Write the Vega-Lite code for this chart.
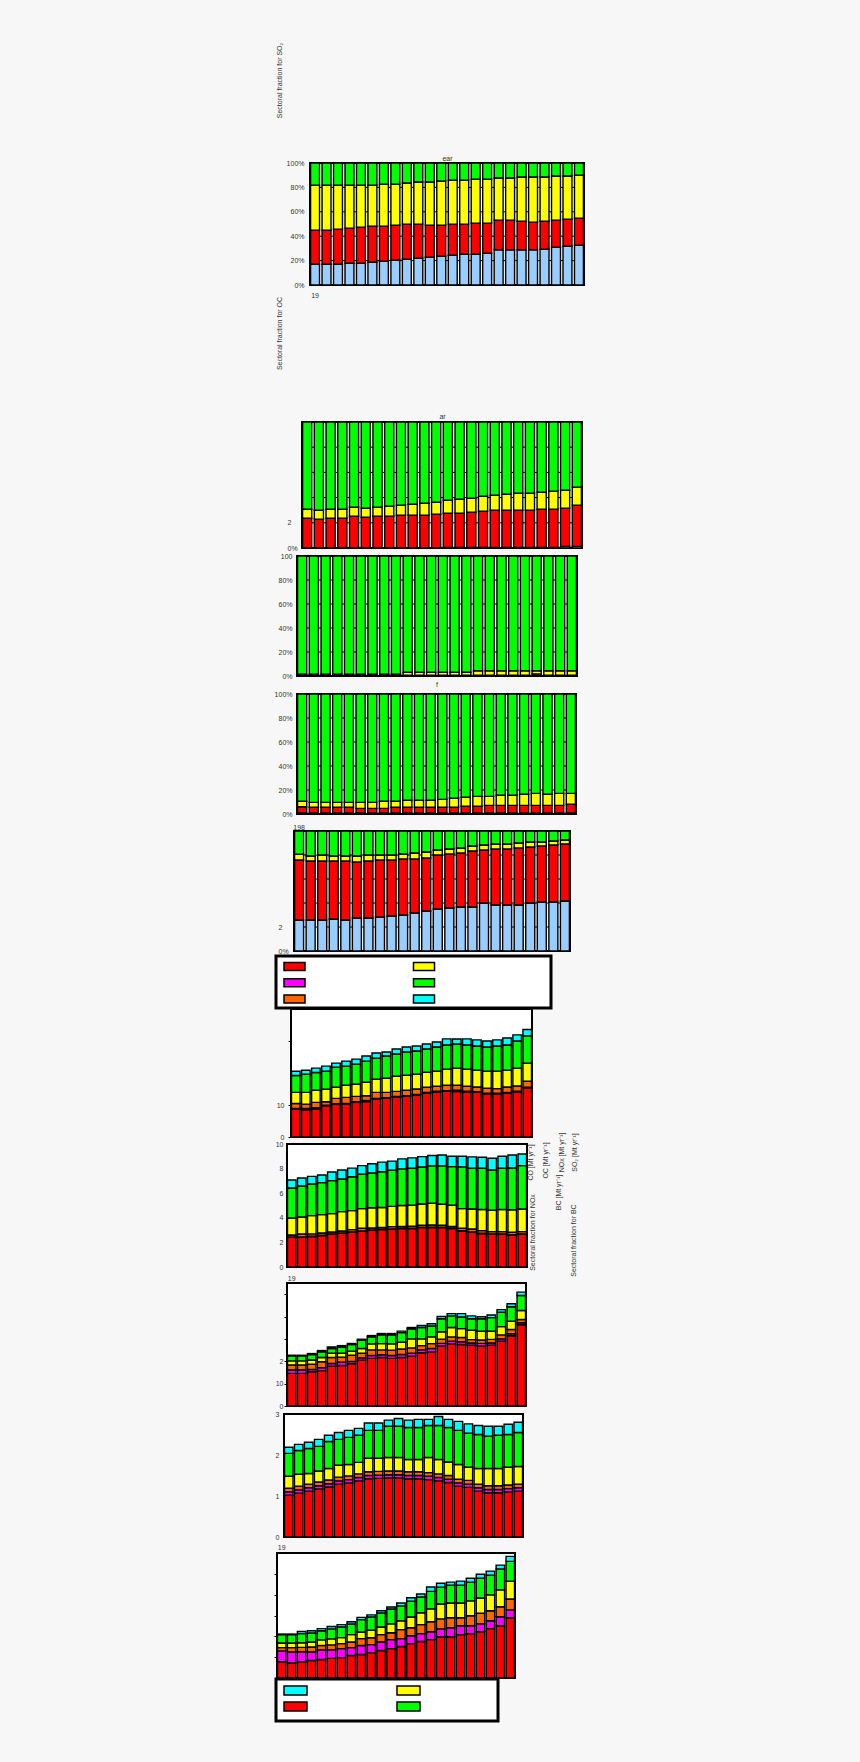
{
"$schema": "https://vega.github.io/schema/vega-lite/v6.json",
"background": "#f7f7f7",
"padding": 0,
"autosize": "none",
"width": 860,
"height": 1762,
"datasets": {
"frame": [{"x0":0,"x1":1,"y0":0,"y1":1}],
"grid": [{"v":20},{"v":40},{"v":60},{"v":80}],
"p1": [
{"year":1980,"a_power":17.0,"b_industry":27.9,"e_transport":37.0,"f_residential":18.1},
{"year":1981,"a_power":17.0,"b_industry":27.9,"e_transport":37.0,"f_residential":18.1},
{"year":1982,"a_power":17.0,"b_industry":28.8,"e_transport":36.1,"f_residential":18.1},
{"year":1983,"a_power":17.8,"b_industry":28.8,"e_transport":35.3,"f_residential":18.1},
{"year":1984,"a_power":17.8,"b_industry":29.6,"e_transport":34.5,"f_residential":18.1},
{"year":1985,"a_power":18.6,"b_industry":29.6,"e_transport":33.7,"f_residential":18.1},
{"year":1986,"a_power":19.5,"b_industry":28.7,"e_transport":34.5,"f_residential":17.3},
{"year":1987,"a_power":20.3,"b_industry":28.7,"e_transport":33.7,"f_residential":17.3},
{"year":1988,"a_power":21.1,"b_industry":28.8,"e_transport":33.7,"f_residential":16.4},
{"year":1989,"a_power":21.9,"b_industry":28.0,"e_transport":34.5,"f_residential":15.6},
{"year":1990,"a_power":22.7,"b_industry":26.3,"e_transport":35.4,"f_residential":15.6},
{"year":1991,"a_power":23.6,"b_industry":25.4,"e_transport":36.2,"f_residential":14.8},
{"year":1992,"a_power":24.4,"b_industry":25.5,"e_transport":36.1,"f_residential":14.0},
{"year":1993,"a_power":25.2,"b_industry":24.7,"e_transport":36.1,"f_residential":14.0},
{"year":1994,"a_power":25.2,"b_industry":25.5,"e_transport":36.1,"f_residential":13.2},
{"year":1995,"a_power":26.0,"b_industry":24.7,"e_transport":36.1,"f_residential":13.2},
{"year":1996,"a_power":28.8,"b_industry":24.4,"e_transport":34.5,"f_residential":12.3},
{"year":1997,"a_power":28.8,"b_industry":24.4,"e_transport":34.5,"f_residential":12.3},
{"year":1998,"a_power":28.8,"b_industry":23.5,"e_transport":36.2,"f_residential":11.5},
{"year":1999,"a_power":28.8,"b_industry":22.7,"e_transport":37.0,"f_residential":11.5},
{"year":2000,"a_power":29.3,"b_industry":23.0,"e_transport":36.2,"f_residential":11.5},
{"year":2001,"a_power":31.0,"b_industry":22.2,"e_transport":36.1,"f_residential":10.7},
{"year":2002,"a_power":31.8,"b_industry":22.2,"e_transport":35.3,"f_residential":10.7},
{"year":2003,"a_power":32.6,"b_industry":22.2,"e_transport":35.3,"f_residential":9.9}
],
"p2": [
{"year":1980,"a_power":0,"b_industry":23.6,"e_transport":7.2,"f_residential":69.2},
{"year":1981,"a_power":0,"b_industry":22.8,"e_transport":7.2,"f_residential":70.0},
{"year":1982,"a_power":0,"b_industry":23.6,"e_transport":7.2,"f_residential":69.2},
{"year":1983,"a_power":0,"b_industry":23.6,"e_transport":7.2,"f_residential":69.2},
{"year":1984,"a_power":0,"b_industry":25.2,"e_transport":7.2,"f_residential":67.6},
{"year":1985,"a_power":0,"b_industry":24.4,"e_transport":7.2,"f_residential":68.4},
{"year":1986,"a_power":0,"b_industry":25.2,"e_transport":7.2,"f_residential":67.6},
{"year":1987,"a_power":0,"b_industry":25.2,"e_transport":8.0,"f_residential":66.8},
{"year":1988,"a_power":0,"b_industry":26.0,"e_transport":8.0,"f_residential":66.0},
{"year":1989,"a_power":0,"b_industry":26.0,"e_transport":8.7,"f_residential":65.3},
{"year":1990,"a_power":0,"b_industry":26.0,"e_transport":9.5,"f_residential":64.5},
{"year":1991,"a_power":0,"b_industry":26.8,"e_transport":9.5,"f_residential":63.7},
{"year":1992,"a_power":0.5,"b_industry":27.1,"e_transport":10.3,"f_residential":62.1},
{"year":1993,"a_power":0.5,"b_industry":27.1,"e_transport":11.1,"f_residential":61.3},
{"year":1994,"a_power":0.5,"b_industry":27.9,"e_transport":11.1,"f_residential":60.5},
{"year":1995,"a_power":0.5,"b_industry":28.7,"e_transport":11.9,"f_residential":58.9},
{"year":1996,"a_power":0.5,"b_industry":29.5,"e_transport":11.9,"f_residential":58.1},
{"year":1997,"a_power":0.5,"b_industry":29.5,"e_transport":12.7,"f_residential":57.3},
{"year":1998,"a_power":0.5,"b_industry":29.5,"e_transport":13.5,"f_residential":56.5},
{"year":1999,"a_power":0.5,"b_industry":29.5,"e_transport":13.5,"f_residential":56.5},
{"year":2000,"a_power":0.5,"b_industry":30.3,"e_transport":13.5,"f_residential":55.7},
{"year":2001,"a_power":0.5,"b_industry":30.3,"e_transport":14.3,"f_residential":54.9},
{"year":2002,"a_power":1.3,"b_industry":30.3,"e_transport":14.3,"f_residential":54.1},
{"year":2003,"a_power":1.3,"b_industry":32.7,"e_transport":14.3,"f_residential":51.7}
],
"p3": [
{"year":1980,"a_power":0.3,"b_industry":0.5,"e_transport":0.7,"f_residential":98.5},
{"year":1981,"a_power":0.3,"b_industry":0.5,"e_transport":0.7,"f_residential":98.5},
{"year":1982,"a_power":0.3,"b_industry":0.5,"e_transport":0.7,"f_residential":98.5},
{"year":1983,"a_power":0.3,"b_industry":0.5,"e_transport":0.7,"f_residential":98.5},
{"year":1984,"a_power":0.3,"b_industry":0.5,"e_transport":0.7,"f_residential":98.5},
{"year":1985,"a_power":0.3,"b_industry":0.5,"e_transport":0.7,"f_residential":98.5},
{"year":1986,"a_power":0.3,"b_industry":0.5,"e_transport":0.7,"f_residential":98.5},
{"year":1987,"a_power":0.3,"b_industry":0.5,"e_transport":0.7,"f_residential":98.5},
{"year":1988,"a_power":0.3,"b_industry":0.5,"e_transport":0.7,"f_residential":98.5},
{"year":1989,"a_power":0.3,"b_industry":0.3,"e_transport":2.5,"f_residential":96.9},
{"year":1990,"a_power":0.3,"b_industry":0.3,"e_transport":2.5,"f_residential":96.9},
{"year":1991,"a_power":0.3,"b_industry":0.3,"e_transport":2.5,"f_residential":96.9},
{"year":1992,"a_power":0.3,"b_industry":0.3,"e_transport":2.5,"f_residential":96.9},
{"year":1993,"a_power":0.3,"b_industry":0.3,"e_transport":2.5,"f_residential":96.9},
{"year":1994,"a_power":0.3,"b_industry":0.3,"e_transport":2.5,"f_residential":96.9},
{"year":1995,"a_power":0.3,"b_industry":0.3,"e_transport":3.8,"f_residential":95.6},
{"year":1996,"a_power":0.3,"b_industry":0.3,"e_transport":3.8,"f_residential":95.6},
{"year":1997,"a_power":0.3,"b_industry":0.3,"e_transport":3.8,"f_residential":95.6},
{"year":1998,"a_power":0.3,"b_industry":0.3,"e_transport":3.8,"f_residential":95.6},
{"year":1999,"a_power":0.3,"b_industry":0.3,"e_transport":3.8,"f_residential":95.6},
{"year":2000,"a_power":0.3,"b_industry":1.5,"e_transport":2.6,"f_residential":95.6},
{"year":2001,"a_power":0.3,"b_industry":0.3,"e_transport":3.8,"f_residential":95.6},
{"year":2002,"a_power":0.3,"b_industry":0.3,"e_transport":3.8,"f_residential":95.6},
{"year":2003,"a_power":0.3,"b_industry":0.3,"e_transport":3.8,"f_residential":95.6}
],
"p4": [
{"year":1980,"a_power":0.8,"b_industry":5.3,"e_transport":4.5,"f_residential":89.4},
{"year":1981,"a_power":0.8,"b_industry":4.8,"e_transport":4.1,"f_residential":90.3},
{"year":1982,"a_power":0.8,"b_industry":4.8,"e_transport":4.1,"f_residential":90.3},
{"year":1983,"a_power":0.8,"b_industry":4.8,"e_transport":4.1,"f_residential":90.3},
{"year":1984,"a_power":0.8,"b_industry":4.8,"e_transport":4.1,"f_residential":90.3},
{"year":1985,"a_power":0.8,"b_industry":3.9,"e_transport":5.0,"f_residential":90.3},
{"year":1986,"a_power":0.8,"b_industry":3.9,"e_transport":5.0,"f_residential":90.3},
{"year":1987,"a_power":0.8,"b_industry":3.9,"e_transport":5.9,"f_residential":89.4},
{"year":1988,"a_power":0.8,"b_industry":4.8,"e_transport":5.0,"f_residential":89.4},
{"year":1989,"a_power":0.8,"b_industry":4.8,"e_transport":5.8,"f_residential":88.6},
{"year":1990,"a_power":0.8,"b_industry":4.8,"e_transport":5.8,"f_residential":88.6},
{"year":1991,"a_power":0.8,"b_industry":4.8,"e_transport":5.8,"f_residential":88.6},
{"year":1992,"a_power":0.8,"b_industry":4.8,"e_transport":6.6,"f_residential":87.8},
{"year":1993,"a_power":0.8,"b_industry":4.8,"e_transport":7.5,"f_residential":86.9},
{"year":1994,"a_power":0.8,"b_industry":5.6,"e_transport":7.5,"f_residential":86.1},
{"year":1995,"a_power":0.8,"b_industry":5.6,"e_transport":8.3,"f_residential":85.3},
{"year":1996,"a_power":0.8,"b_industry":6.4,"e_transport":7.5,"f_residential":85.3},
{"year":1997,"a_power":0.8,"b_industry":6.4,"e_transport":8.4,"f_residential":84.4},
{"year":1998,"a_power":0.8,"b_industry":6.4,"e_transport":8.4,"f_residential":84.4},
{"year":1999,"a_power":0.8,"b_industry":6.4,"e_transport":9.2,"f_residential":83.6},
{"year":2000,"a_power":0.8,"b_industry":6.4,"e_transport":10.0,"f_residential":82.8},
{"year":2001,"a_power":0.8,"b_industry":6.4,"e_transport":9.2,"f_residential":83.6},
{"year":2002,"a_power":0.8,"b_industry":6.4,"e_transport":10.0,"f_residential":82.8},
{"year":2003,"a_power":0.8,"b_industry":7.3,"e_transport":9.1,"f_residential":82.8}
],
"p5": [
{"year":1980,"a_power":25.8,"b_industry":50.0,"e_transport":4.8,"f_residential":19.4},
{"year":1981,"a_power":25.8,"b_industry":49.2,"e_transport":4.2,"f_residential":20.8},
{"year":1982,"a_power":25.8,"b_industry":49.2,"e_transport":5.0,"f_residential":20.0},
{"year":1983,"a_power":26.7,"b_industry":48.3,"e_transport":4.2,"f_residential":20.8},
{"year":1984,"a_power":25.8,"b_industry":49.2,"e_transport":4.2,"f_residential":20.8},
{"year":1985,"a_power":27.5,"b_industry":46.7,"e_transport":5.0,"f_residential":20.8},
{"year":1986,"a_power":27.5,"b_industry":47.5,"e_transport":5.0,"f_residential":20.0},
{"year":1987,"a_power":28.3,"b_industry":47.5,"e_transport":4.2,"f_residential":20.0},
{"year":1988,"a_power":29.2,"b_industry":46.6,"e_transport":4.2,"f_residential":20.0},
{"year":1989,"a_power":30.0,"b_industry":46.7,"e_transport":4.1,"f_residential":19.2},
{"year":1990,"a_power":31.7,"b_industry":45.0,"e_transport":5.0,"f_residential":18.3},
{"year":1991,"a_power":33.3,"b_industry":44.2,"e_transport":5.0,"f_residential":17.5},
{"year":1992,"a_power":35.0,"b_industry":45.0,"e_transport":4.2,"f_residential":15.8},
{"year":1993,"a_power":35.8,"b_industry":45.0,"e_transport":4.2,"f_residential":15.0},
{"year":1994,"a_power":36.7,"b_industry":45.0,"e_transport":4.1,"f_residential":14.2},
{"year":1995,"a_power":36.7,"b_industry":46.6,"e_transport":4.2,"f_residential":12.5},
{"year":1996,"a_power":40.0,"b_industry":44.2,"e_transport":4.1,"f_residential":11.7},
{"year":1997,"a_power":38.3,"b_industry":46.7,"e_transport":4.2,"f_residential":10.8},
{"year":1998,"a_power":38.3,"b_industry":46.7,"e_transport":4.2,"f_residential":10.8},
{"year":1999,"a_power":38.3,"b_industry":47.5,"e_transport":4.2,"f_residential":10.0},
{"year":2000,"a_power":40.0,"b_industry":46.7,"e_transport":4.1,"f_residential":9.2},
{"year":2001,"a_power":40.8,"b_industry":46.7,"e_transport":3.3,"f_residential":9.2},
{"year":2002,"a_power":40.8,"b_industry":47.5,"e_transport":3.4,"f_residential":8.3},
{"year":2003,"a_power":41.7,"b_industry":47.5,"e_transport":3.3,"f_residential":7.5}
],
"p6": [
{"year":1980,"b_industry":8.72,"c_aviation":0.2,"d_shipping":1.57,"e_transport":3.46,"f_residential":5.25,"g_other":1.36},
{"year":1981,"b_industry":8.52,"c_aviation":0.4,"d_shipping":1.36,"e_transport":3.67,"f_residential":5.67,"g_other":1.26},
{"year":1982,"b_industry":8.73,"c_aviation":0.4,"d_shipping":1.68,"e_transport":3.78,"f_residential":5.56,"g_other":1.36},
{"year":1983,"b_industry":9.77,"c_aviation":0.2,"d_shipping":1.05,"e_transport":3.88,"f_residential":5.67,"g_other":1.57},
{"year":1984,"b_industry":10.19,"c_aviation":0.2,"d_shipping":1.68,"e_transport":3.46,"f_residential":6.30,"g_other":1.26},
{"year":1985,"b_industry":10.30,"c_aviation":0.2,"d_shipping":1.89,"e_transport":3.78,"f_residential":5.98,"g_other":1.57},
{"year":1986,"b_industry":10.82,"c_aviation":0.2,"d_shipping":1.68,"e_transport":3.78,"f_residential":6.30,"g_other":1.57},
{"year":1987,"b_industry":11.04,"c_aviation":0.4,"d_shipping":1.47,"e_transport":4.20,"f_residential":6.61,"g_other":1.57},
{"year":1988,"b_industry":11.87,"c_aviation":0.2,"d_shipping":1.89,"e_transport":4.09,"f_residential":6.61,"g_other":1.57},
{"year":1989,"b_industry":12.08,"c_aviation":0.2,"d_shipping":1.68,"e_transport":4.41,"f_residential":6.93,"g_other":1.26},
{"year":1990,"b_industry":12.50,"c_aviation":0.2,"d_shipping":1.57,"e_transport":4.72,"f_residential":6.93,"g_other":1.57},
{"year":1991,"b_industry":12.71,"c_aviation":0.2,"d_shipping":1.68,"e_transport":4.72,"f_residential":7.24,"g_other":1.57},
{"year":1992,"b_industry":13.13,"c_aviation":0.2,"d_shipping":1.68,"e_transport":4.62,"f_residential":7.24,"g_other":1.57},
{"year":1993,"b_industry":13.76,"c_aviation":0.2,"d_shipping":1.57,"e_transport":4.72,"f_residential":7.24,"g_other":1.57},
{"year":1994,"b_industry":14.08,"c_aviation":0.2,"d_shipping":1.57,"e_transport":4.72,"f_residential":7.56,"g_other":1.57},
{"year":1995,"b_industry":14.29,"c_aviation":0.2,"d_shipping":1.68,"e_transport":5.04,"f_residential":7.56,"g_other":1.89},
{"year":1996,"b_industry":14.19,"c_aviation":0.4,"d_shipping":1.57,"e_transport":5.35,"f_residential":7.56,"g_other":1.57},
{"year":1997,"b_industry":14.08,"c_aviation":0.2,"d_shipping":1.57,"e_transport":5.35,"f_residential":7.56,"g_other":1.89},
{"year":1998,"b_industry":13.97,"c_aviation":0.2,"d_shipping":1.47,"e_transport":5.25,"f_residential":7.56,"g_other":1.89},
{"year":1999,"b_industry":13.45,"c_aviation":0.2,"d_shipping":1.57,"e_transport":5.35,"f_residential":7.56,"g_other":1.89},
{"year":2000,"b_industry":13.45,"c_aviation":0.2,"d_shipping":1.47,"e_transport":5.46,"f_residential":7.87,"g_other":1.89},
{"year":2001,"b_industry":13.76,"c_aviation":0.2,"d_shipping":1.68,"e_transport":5.25,"f_residential":7.87,"g_other":2.20},
{"year":2002,"b_industry":14.08,"c_aviation":0.2,"d_shipping":1.68,"e_transport":5.56,"f_residential":8.50,"g_other":1.89},
{"year":2003,"b_industry":15.34,"c_aviation":0.2,"d_shipping":1.89,"e_transport":5.67,"f_residential":8.50,"g_other":1.99}
],
"p7": [
{"year":1980,"b_industry":2.41,"c_aviation":0.03,"d_shipping":0.16,"e_transport":1.38,"f_residential":2.44,"g_other":0.65},
{"year":1981,"b_industry":2.41,"c_aviation":0.03,"d_shipping":0.24,"e_transport":1.38,"f_residential":2.52,"g_other":0.65},
{"year":1982,"b_industry":2.47,"c_aviation":0.03,"d_shipping":0.19,"e_transport":1.49,"f_residential":2.57,"g_other":0.62},
{"year":1983,"b_industry":2.55,"c_aviation":0.03,"d_shipping":0.19,"e_transport":1.49,"f_residential":2.60,"g_other":0.62},
{"year":1984,"b_industry":2.66,"c_aviation":0.03,"d_shipping":0.16,"e_transport":1.49,"f_residential":2.68,"g_other":0.70},
{"year":1985,"b_industry":2.74,"c_aviation":0.03,"d_shipping":0.16,"e_transport":1.57,"f_residential":2.66,"g_other":0.73},
{"year":1986,"b_industry":2.82,"c_aviation":0.03,"d_shipping":0.19,"e_transport":1.54,"f_residential":2.76,"g_other":0.70},
{"year":1987,"b_industry":2.90,"c_aviation":0.03,"d_shipping":0.22,"e_transport":1.60,"f_residential":2.79,"g_other":0.70},
{"year":1988,"b_industry":2.98,"c_aviation":0.03,"d_shipping":0.16,"e_transport":1.65,"f_residential":2.82,"g_other":0.76},
{"year":1989,"b_industry":3.04,"c_aviation":0.03,"d_shipping":0.14,"e_transport":1.63,"f_residential":2.90,"g_other":0.79},
{"year":1990,"b_industry":3.06,"c_aviation":0.03,"d_shipping":0.19,"e_transport":1.65,"f_residential":2.95,"g_other":0.73},
{"year":1991,"b_industry":3.12,"c_aviation":0.03,"d_shipping":0.14,"e_transport":1.71,"f_residential":2.98,"g_other":0.81},
{"year":1992,"b_industry":3.12,"c_aviation":0.03,"d_shipping":0.16,"e_transport":1.71,"f_residential":3.01,"g_other":0.84},
{"year":1993,"b_industry":3.20,"c_aviation":0.03,"d_shipping":0.16,"e_transport":1.73,"f_residential":3.01,"g_other":0.84},
{"year":1994,"b_industry":3.20,"c_aviation":0.03,"d_shipping":0.19,"e_transport":1.76,"f_residential":3.04,"g_other":0.84},
{"year":1995,"b_industry":3.20,"c_aviation":0.03,"d_shipping":0.16,"e_transport":1.71,"f_residential":3.12,"g_other":0.89},
{"year":1996,"b_industry":3.12,"c_aviation":0.03,"d_shipping":0.14,"e_transport":1.73,"f_residential":3.14,"g_other":0.84},
{"year":1997,"b_industry":2.93,"c_aviation":0.03,"d_shipping":0.19,"e_transport":1.60,"f_residential":3.39,"g_other":0.87},
{"year":1998,"b_industry":2.82,"c_aviation":0.03,"d_shipping":0.24,"e_transport":1.63,"f_residential":3.31,"g_other":0.92},
{"year":1999,"b_industry":2.71,"c_aviation":0.03,"d_shipping":0.22,"e_transport":1.71,"f_residential":3.36,"g_other":0.89},
{"year":2000,"b_industry":2.66,"c_aviation":0.03,"d_shipping":0.19,"e_transport":1.73,"f_residential":3.28,"g_other":0.95},
{"year":2001,"b_industry":2.66,"c_aviation":0.03,"d_shipping":0.19,"e_transport":1.79,"f_residential":3.36,"g_other":0.98},
{"year":2002,"b_industry":2.60,"c_aviation":0.03,"d_shipping":0.19,"e_transport":1.84,"f_residential":3.39,"g_other":1.06},
{"year":2003,"b_industry":2.66,"c_aviation":0.03,"d_shipping":0.19,"e_transport":1.84,"f_residential":3.52,"g_other":0.95}
],
"p8": [
{"year":1980,"b_industry":14.6,"c_aviation":1.5,"d_shipping":2.2,"e_transport":1.9,"f_residential":2.2,"g_other":0.3},
{"year":1981,"b_industry":14.6,"c_aviation":1.5,"d_shipping":2.2,"e_transport":1.9,"f_residential":2.2,"g_other":0.3},
{"year":1982,"b_industry":15.3,"c_aviation":1.0,"d_shipping":2.4,"e_transport":1.9,"f_residential":2.4,"g_other":0.45},
{"year":1983,"b_industry":15.8,"c_aviation":1.3,"d_shipping":2.7,"e_transport":1.9,"f_residential":2.5,"g_other":0.6},
{"year":1984,"b_industry":17.8,"c_aviation":1.2,"d_shipping":2.7,"e_transport":1.9,"f_residential":2.1,"g_other":0.7},
{"year":1985,"b_industry":18.1,"c_aviation":1.5,"d_shipping":2.2,"e_transport":1.8,"f_residential":2.8,"g_other":0.6},
{"year":1986,"b_industry":18.9,"c_aviation":1.0,"d_shipping":2.8,"e_transport":1.8,"f_residential":3.0,"g_other":0.45},
{"year":1987,"b_industry":20.5,"c_aviation":1.0,"d_shipping":2.1,"e_transport":2.1,"f_residential":3.7,"g_other":0.45},
{"year":1988,"b_industry":21.3,"c_aviation":1.3,"d_shipping":2.5,"e_transport":2.7,"f_residential":3.1,"g_other":0.6},
{"year":1989,"b_industry":21.7,"c_aviation":1.2,"d_shipping":2.2,"e_transport":2.8,"f_residential":3.9,"g_other":0.6},
{"year":1990,"b_industry":21.3,"c_aviation":1.3,"d_shipping":2.4,"e_transport":2.8,"f_residential":4.0,"g_other":0.6},
{"year":1991,"b_industry":21.7,"c_aviation":1.3,"d_shipping":2.5,"e_transport":3.0,"f_residential":4.3,"g_other":0.7},
{"year":1992,"b_industry":22.3,"c_aviation":1.3,"d_shipping":2.4,"e_transport":4.0,"f_residential":4.5,"g_other":0.6},
{"year":1993,"b_industry":23.8,"c_aviation":1.3,"d_shipping":1.9,"e_transport":3.0,"f_residential":5.1,"g_other":0.9},
{"year":1994,"b_industry":24.2,"c_aviation":1.5,"d_shipping":2.2,"e_transport":3.0,"f_residential":4.9,"g_other":1.0},
{"year":1995,"b_industry":26.8,"c_aviation":1.2,"d_shipping":1.9,"e_transport":3.3,"f_residential":5.8,"g_other":1.0},
{"year":1996,"b_industry":27.8,"c_aviation":1.2,"d_shipping":1.9,"e_transport":4.2,"f_residential":5.2,"g_other":1.0},
{"year":1997,"b_industry":27.5,"c_aviation":1.2,"d_shipping":1.9,"e_transport":4.0,"f_residential":5.2,"g_other":1.5},
{"year":1998,"b_industry":27.2,"c_aviation":1.0,"d_shipping":1.5,"e_transport":4.2,"f_residential":5.1,"g_other":1.3},
{"year":1999,"b_industry":26.8,"c_aviation":1.2,"d_shipping":1.5,"e_transport":3.9,"f_residential":5.6,"g_other":0.9},
{"year":2000,"b_industry":27.2,"c_aviation":1.0,"d_shipping":1.6,"e_transport":3.6,"f_residential":6.1,"g_other":1.2},
{"year":2001,"b_industry":29.0,"c_aviation":1.0,"d_shipping":1.8,"e_transport":3.7,"f_residential":6.4,"g_other":1.2},
{"year":2002,"b_industry":31.4,"c_aviation":0.9,"d_shipping":1.9,"e_transport":3.7,"f_residential":6.5,"g_other":1.3},
{"year":2003,"b_industry":36.3,"c_aviation":0.9,"d_shipping":1.5,"e_transport":4.0,"f_residential":6.7,"g_other":1.5}
],
"p9": [
{"year":1980,"b_industry":1.02,"c_aviation":0.08,"d_shipping":0.09,"e_transport":0.29,"f_residential":0.56,"g_other":0.15},
{"year":1981,"b_industry":1.07,"c_aviation":0.08,"d_shipping":0.09,"e_transport":0.29,"f_residential":0.58,"g_other":0.15},
{"year":1982,"b_industry":1.12,"c_aviation":0.08,"d_shipping":0.09,"e_transport":0.26,"f_residential":0.61,"g_other":0.15},
{"year":1983,"b_industry":1.17,"c_aviation":0.08,"d_shipping":0.09,"e_transport":0.27,"f_residential":0.60,"g_other":0.17},
{"year":1984,"b_industry":1.22,"c_aviation":0.08,"d_shipping":0.09,"e_transport":0.28,"f_residential":0.66,"g_other":0.15},
{"year":1985,"b_industry":1.29,"c_aviation":0.08,"d_shipping":0.09,"e_transport":0.29,"f_residential":0.63,"g_other":0.17},
{"year":1986,"b_industry":1.32,"c_aviation":0.08,"d_shipping":0.09,"e_transport":0.28,"f_residential":0.66,"g_other":0.17},
{"year":1987,"b_industry":1.37,"c_aviation":0.08,"d_shipping":0.09,"e_transport":0.28,"f_residential":0.66,"g_other":0.17},
{"year":1988,"b_industry":1.42,"c_aviation":0.08,"d_shipping":0.09,"e_transport":0.33,"f_residential":0.68,"g_other":0.18},
{"year":1989,"b_industry":1.43,"c_aviation":0.08,"d_shipping":0.09,"e_transport":0.32,"f_residential":0.68,"g_other":0.18},
{"year":1990,"b_industry":1.44,"c_aviation":0.08,"d_shipping":0.09,"e_transport":0.33,"f_residential":0.76,"g_other":0.15},
{"year":1991,"b_industry":1.44,"c_aviation":0.08,"d_shipping":0.09,"e_transport":0.33,"f_residential":0.76,"g_other":0.19},
{"year":1992,"b_industry":1.42,"c_aviation":0.08,"d_shipping":0.09,"e_transport":0.30,"f_residential":0.78,"g_other":0.18},
{"year":1993,"b_industry":1.42,"c_aviation":0.08,"d_shipping":0.09,"e_transport":0.30,"f_residential":0.78,"g_other":0.20},
{"year":1994,"b_industry":1.40,"c_aviation":0.08,"d_shipping":0.09,"e_transport":0.37,"f_residential":0.78,"g_other":0.15},
{"year":1995,"b_industry":1.37,"c_aviation":0.08,"d_shipping":0.09,"e_transport":0.35,"f_residential":0.83,"g_other":0.22},
{"year":1996,"b_industry":1.33,"c_aviation":0.08,"d_shipping":0.09,"e_transport":0.33,"f_residential":0.84,"g_other":0.20},
{"year":1997,"b_industry":1.24,"c_aviation":0.08,"d_shipping":0.09,"e_transport":0.36,"f_residential":0.83,"g_other":0.22},
{"year":1998,"b_industry":1.21,"c_aviation":0.08,"d_shipping":0.09,"e_transport":0.32,"f_residential":0.83,"g_other":0.23},
{"year":1999,"b_industry":1.12,"c_aviation":0.08,"d_shipping":0.09,"e_transport":0.38,"f_residential":0.83,"g_other":0.22},
{"year":2000,"b_industry":1.08,"c_aviation":0.08,"d_shipping":0.09,"e_transport":0.42,"f_residential":0.79,"g_other":0.24},
{"year":2001,"b_industry":1.08,"c_aviation":0.08,"d_shipping":0.09,"e_transport":0.42,"f_residential":0.81,"g_other":0.22},
{"year":2002,"b_industry":1.10,"c_aviation":0.08,"d_shipping":0.09,"e_transport":0.43,"f_residential":0.80,"g_other":0.25},
{"year":2003,"b_industry":1.12,"c_aviation":0.08,"d_shipping":0.09,"e_transport":0.43,"f_residential":0.83,"g_other":0.25}
],
"p10": [
{"year":1980,"b_industry":0.78,"c_aviation":0.52,"d_shipping":0.16,"e_transport":0.22,"f_residential":0.40,"g_other":0.03},
{"year":1981,"b_industry":0.73,"c_aviation":0.52,"d_shipping":0.21,"e_transport":0.22,"f_residential":0.40,"g_other":0.03},
{"year":1982,"b_industry":0.78,"c_aviation":0.48,"d_shipping":0.21,"e_transport":0.22,"f_residential":0.44,"g_other":0.10},
{"year":1983,"b_industry":0.84,"c_aviation":0.41,"d_shipping":0.24,"e_transport":0.24,"f_residential":0.43,"g_other":0.11},
{"year":1984,"b_industry":0.89,"c_aviation":0.46,"d_shipping":0.21,"e_transport":0.27,"f_residential":0.44,"g_other":0.10},
{"year":1985,"b_industry":0.94,"c_aviation":0.41,"d_shipping":0.24,"e_transport":0.29,"f_residential":0.48,"g_other":0.11},
{"year":1986,"b_industry":0.98,"c_aviation":0.43,"d_shipping":0.24,"e_transport":0.29,"f_residential":0.51,"g_other":0.11},
{"year":1987,"b_industry":1.08,"c_aviation":0.38,"d_shipping":0.27,"e_transport":0.35,"f_residential":0.51,"g_other":0.11},
{"year":1988,"b_industry":1.13,"c_aviation":0.43,"d_shipping":0.33,"e_transport":0.32,"f_residential":0.59,"g_other":0.11},
{"year":1989,"b_industry":1.22,"c_aviation":0.38,"d_shipping":0.33,"e_transport":0.37,"f_residential":0.63,"g_other":0.10},
{"year":1990,"b_industry":1.32,"c_aviation":0.41,"d_shipping":0.35,"e_transport":0.37,"f_residential":0.67,"g_other":0.11},
{"year":1991,"b_industry":1.41,"c_aviation":0.43,"d_shipping":0.33,"e_transport":0.43,"f_residential":0.71,"g_other":0.10},
{"year":1992,"b_industry":1.51,"c_aviation":0.38,"d_shipping":0.43,"e_transport":0.43,"f_residential":0.71,"g_other":0.14},
{"year":1993,"b_industry":1.65,"c_aviation":0.38,"d_shipping":0.38,"e_transport":0.52,"f_residential":0.76,"g_other":0.16},
{"year":1994,"b_industry":1.75,"c_aviation":0.38,"d_shipping":0.43,"e_transport":0.57,"f_residential":0.76,"g_other":0.14},
{"year":1995,"b_industry":1.84,"c_aviation":0.38,"d_shipping":0.48,"e_transport":0.62,"f_residential":0.84,"g_other":0.21},
{"year":1996,"b_industry":1.98,"c_aviation":0.38,"d_shipping":0.48,"e_transport":0.71,"f_residential":0.81,"g_other":0.19},
{"year":1997,"b_industry":1.98,"c_aviation":0.43,"d_shipping":0.48,"e_transport":0.71,"f_residential":0.86,"g_other":0.14},
{"year":1998,"b_industry":2.08,"c_aviation":0.43,"d_shipping":0.38,"e_transport":0.71,"f_residential":0.86,"g_other":0.19},
{"year":1999,"b_industry":2.13,"c_aviation":0.38,"d_shipping":0.48,"e_transport":0.71,"f_residential":0.90,"g_other":0.19},
{"year":2000,"b_industry":2.22,"c_aviation":0.38,"d_shipping":0.51,"e_transport":0.73,"f_residential":0.95,"g_other":0.19},
{"year":2001,"b_industry":2.37,"c_aviation":0.38,"d_shipping":0.48,"e_transport":0.76,"f_residential":0.95,"g_other":0.19},
{"year":2002,"b_industry":2.51,"c_aviation":0.43,"d_shipping":0.48,"e_transport":0.81,"f_residential":1.00,"g_other":0.19},
{"year":2003,"b_industry":2.89,"c_aviation":0.38,"d_shipping":0.52,"e_transport":0.86,"f_residential":0.95,"g_other":0.24}
],
"legend1": [
{"series":"b_industry","col":0,"row":0},{"series":"e_transport","col":1,"row":0},
{"series":"c_aviation","col":0,"row":1},{"series":"f_residential","col":1,"row":1},
{"series":"d_shipping","col":0,"row":2},{"series":"g_other","col":1,"row":2}
],
"legend2": [
{"series":"g_other","col":0,"row":0},{"series":"e_transport","col":1,"row":0},
{"series":"b_industry","col":0,"row":1},{"series":"f_residential","col":1,"row":1}
]
},
"layer": [
{"data":{"name":"frame"},"mark":{"type":"rect","fill":"white","stroke":"black","strokeWidth":2},
 "encoding":{"x":{"field":"x0","type":"quantitative","scale":{"domain":[0,1],"range":[310,584],"nice":false},"axis":{"orient":"top","offset":-163,"labels":false,"ticks":false,"title":"ear","titlePadding":2}},"x2":{"field":"x1"},
  "y":{"field":"y0","type":"quantitative","scale":{"domain":[0,1],"range":[285,163],"nice":false},"axis":null},"y2":{"field":"y1"}}},
{"data":{"name":"grid"},"mark":{"type":"rule","color":"black","strokeWidth":1},
 "encoding":{"x":{"datum":0,"type":"quantitative","scale":{"domain":[0,1],"range":[310,584],"nice":false},"axis":null},"x2":{"datum":1},
  "y":{"field":"v","type":"quantitative","scale":{"domain":[0,100],"range":[285,163],"nice":false},"axis":null}}},
{"data":{"name":"p1"},"transform":[{"fold":["a_power","b_industry","e_transport","f_residential"],"as":["series","value"]}],
 "mark":{"type":"bar","stroke":"black","strokeWidth":1.4},
 "encoding":{
  "x":{"field":"year","type":"ordinal","scale":{"range":[310,584],"paddingInner":0.22,"paddingOuter":0.05},"axis":{"orient":"bottom","offset":-1477,"title":null,"labelExpr":"datum.value==1980?'19':''","labelPadding":6,"labelAngle":0}},
  "y":{"field":"value","type":"quantitative","stack":"zero","scale":{"domain":[0,100],"range":[285,163],"nice":false},"axis":{"orient":"left","offset":-310,"values":[0,20,40,60,80,100],"labelExpr":"datum.value+'%'","labelPadding":6,"title":"Sectoral fraction for SO₂","titleX":-31,"titleY":80,"titleAngle":270,"titleAlign":"center","titleBaseline":"middle"}},
  "color":{"field":"series","type":"nominal","scale":{"domain":["a_power","b_industry","c_aviation","d_shipping","e_transport","f_residential","g_other"],"range":["#99ccff","#ff0000","#ff00ff","#ff6600","#ffff00","#00ff00","#00ffff"]},"legend":null},
  "order":{"field":"series","type":"ordinal","sort":"ascending"}}},

{"data":{"name":"frame"},"mark":{"type":"rect","fill":"white","stroke":"black","strokeWidth":2},
 "encoding":{"x":{"field":"x0","type":"quantitative","scale":{"domain":[0,1],"range":[302,582],"nice":false},"axis":{"orient":"top","offset":-422,"labels":false,"ticks":false,"title":"ar","titlePadding":3}},"x2":{"field":"x1"},
  "y":{"field":"y0","type":"quantitative","scale":{"domain":[0,1],"range":[548,422],"nice":false},"axis":null},"y2":{"field":"y1"}}},
{"data":{"name":"grid"},"mark":{"type":"rule","color":"black","strokeWidth":1},
 "encoding":{"x":{"datum":0,"type":"quantitative","scale":{"domain":[0,1],"range":[302,582],"nice":false},"axis":null},"x2":{"datum":1},
  "y":{"field":"v","type":"quantitative","scale":{"domain":[0,100],"range":[548,422],"nice":false},"axis":null}}},
{"data":{"name":"p2"},"transform":[{"fold":["a_power","b_industry","e_transport","f_residential"],"as":["series","value"]}],
 "mark":{"type":"bar","stroke":"black","strokeWidth":1.4},
 "encoding":{
  "x":{"field":"year","type":"ordinal","scale":{"range":[302,582],"paddingInner":0.22,"paddingOuter":0.05},"axis":null},
  "y":{"field":"value","type":"quantitative","stack":"zero","scale":{"domain":[0,100],"range":[548,422],"nice":false},"axis":{"orient":"left","offset":-302,"values":[0,20,40,60,80,100],"labelExpr":"datum.value==0?'0%':datum.value==20?'2':''","labelAlign":"left","labelPadding":15,"title":"Sectoral fraction for OC","titleX":-23,"titleY":333,"titleAngle":270,"titleAlign":"center","titleBaseline":"middle"}},
  "color":{"field":"series","type":"nominal","scale":{"domain":["a_power","b_industry","c_aviation","d_shipping","e_transport","f_residential","g_other"],"range":["#99ccff","#ff0000","#ff00ff","#ff6600","#ffff00","#00ff00","#00ffff"]},"legend":null},
  "order":{"field":"series","type":"ordinal","sort":"ascending"}}},

{"data":{"name":"frame"},"mark":{"type":"rect","fill":"white","stroke":"black","strokeWidth":2},
 "encoding":{"x":{"field":"x0","type":"quantitative","scale":{"domain":[0,1],"range":[297,577],"nice":false},"axis":null},"x2":{"field":"x1"},
  "y":{"field":"y0","type":"quantitative","scale":{"domain":[0,1],"range":[676,556],"nice":false},"axis":null},"y2":{"field":"y1"}}},
{"data":{"name":"grid"},"mark":{"type":"rule","color":"black","strokeWidth":1},
 "encoding":{"x":{"datum":0,"type":"quantitative","scale":{"domain":[0,1],"range":[297,577],"nice":false},"axis":null},"x2":{"datum":1},
  "y":{"field":"v","type":"quantitative","scale":{"domain":[0,100],"range":[676,556],"nice":false},"axis":null}}},
{"data":{"name":"p3"},"transform":[{"fold":["a_power","b_industry","e_transport","f_residential"],"as":["series","value"]}],
 "mark":{"type":"bar","stroke":"black","strokeWidth":1.4},
 "encoding":{
  "x":{"field":"year","type":"ordinal","scale":{"range":[297,577],"paddingInner":0.22,"paddingOuter":0.05},"axis":null},
  "y":{"field":"value","type":"quantitative","stack":"zero","scale":{"domain":[0,100],"range":[676,556],"nice":false},"axis":{"orient":"left","offset":-297,"values":[0,20,40,60,80,100],"labelExpr":"datum.value==100?'100':datum.value+'%'","labelPadding":5,"title":null}},
  "color":{"field":"series","type":"nominal","scale":{"domain":["a_power","b_industry","c_aviation","d_shipping","e_transport","f_residential","g_other"],"range":["#99ccff","#ff0000","#ff00ff","#ff6600","#ffff00","#00ff00","#00ffff"]},"legend":null},
  "order":{"field":"series","type":"ordinal","sort":"ascending"}}},

{"data":{"name":"frame"},"mark":{"type":"rect","fill":"white","stroke":"black","strokeWidth":2},
 "encoding":{"x":{"field":"x0","type":"quantitative","scale":{"domain":[0,1],"range":[297,576],"nice":false},"axis":{"orient":"top","offset":-694,"labels":false,"ticks":false,"title":"f","titlePadding":7}},"x2":{"field":"x1"},
  "y":{"field":"y0","type":"quantitative","scale":{"domain":[0,1],"range":[814,694],"nice":false},"axis":null},"y2":{"field":"y1"}}},
{"data":{"name":"grid"},"mark":{"type":"rule","color":"black","strokeWidth":1},
 "encoding":{"x":{"datum":0,"type":"quantitative","scale":{"domain":[0,1],"range":[297,576],"nice":false},"axis":null},"x2":{"datum":1},
  "y":{"field":"v","type":"quantitative","scale":{"domain":[0,100],"range":[814,694],"nice":false},"axis":null}}},
{"data":{"name":"p4"},"transform":[{"fold":["a_power","b_industry","e_transport","f_residential"],"as":["series","value"]}],
 "mark":{"type":"bar","stroke":"black","strokeWidth":1.4},
 "encoding":{
  "x":{"field":"year","type":"ordinal","scale":{"range":[297,576],"paddingInner":0.22,"paddingOuter":0.05},"axis":null},
  "y":{"field":"value","type":"quantitative","stack":"zero","scale":{"domain":[0,100],"range":[814,694],"nice":false},"axis":{"orient":"left","offset":-297,"values":[0,20,40,60,80,100],"labelExpr":"datum.value+'%'","labelPadding":5,"title":null}},
  "color":{"field":"series","type":"nominal","scale":{"domain":["a_power","b_industry","c_aviation","d_shipping","e_transport","f_residential","g_other"],"range":["#99ccff","#ff0000","#ff00ff","#ff6600","#ffff00","#00ff00","#00ffff"]},"legend":null},
  "order":{"field":"series","type":"ordinal","sort":"ascending"}}},

{"data":{"name":"frame"},"mark":{"type":"rect","fill":"white","stroke":"black","strokeWidth":2},
 "encoding":{"x":{"field":"x0","type":"quantitative","scale":{"domain":[0,1],"range":[294,570],"nice":false},"axis":null},"x2":{"field":"x1"},
  "y":{"field":"y0","type":"quantitative","scale":{"domain":[0,1],"range":[951,831],"nice":false},"axis":null},"y2":{"field":"y1"}}},
{"data":{"name":"grid"},"mark":{"type":"rule","color":"black","strokeWidth":1},
 "encoding":{"x":{"datum":0,"type":"quantitative","scale":{"domain":[0,1],"range":[294,570],"nice":false},"axis":null},"x2":{"datum":1},
  "y":{"field":"v","type":"quantitative","scale":{"domain":[0,100],"range":[951,831],"nice":false},"axis":null}}},
{"data":{"name":"p5"},"transform":[{"fold":["a_power","b_industry","e_transport","f_residential"],"as":["series","value"]}],
 "mark":{"type":"bar","stroke":"black","strokeWidth":1.4},
 "encoding":{
  "x":{"field":"year","type":"ordinal","scale":{"range":[294,570],"paddingInner":0.22,"paddingOuter":0.05},"axis":{"orient":"top","offset":-831,"title":null,"labelExpr":"datum.value==1980?'198':''","labelPadding":1,"labelAngle":0}},
  "y":{"field":"value","type":"quantitative","stack":"zero","scale":{"domain":[0,100],"range":[951,831],"nice":false},"axis":{"orient":"left","offset":-294,"values":[0,20,40,60,80,100],"labelExpr":"datum.value==0?'0%':datum.value==20?'2':''","labelAlign":"left","labelPadding":16,"title":null}},
  "color":{"field":"series","type":"nominal","scale":{"domain":["a_power","b_industry","c_aviation","d_shipping","e_transport","f_residential","g_other"],"range":["#99ccff","#ff0000","#ff00ff","#ff6600","#ffff00","#00ff00","#00ffff"]},"legend":null},
  "order":{"field":"series","type":"ordinal","sort":"ascending"}}},

{"data":{"name":"frame"},"mark":{"type":"rect","fill":"white","stroke":"black","strokeWidth":3},
 "encoding":{"x":{"field":"x0","type":"quantitative","scale":{"domain":[0,1],"range":[276,551],"nice":false},"axis":null},"x2":{"field":"x1"},
  "y":{"field":"y0","type":"quantitative","scale":{"domain":[0,1],"range":[1008,956],"nice":false},"axis":{"orient":"right","offset":-328,"labels":false,"ticks":false,"title":"Sectoral fraction for NOx","titleX":0,"titleY":1232,"titleAngle":270,"titleAlign":"center","titleBaseline":"middle"}},"y2":{"field":"y1"}}},
{"data":{"name":"legend1"},"mark":{"type":"point","shape":"M-1,-0.381H1V0.381H-1Z","size":441,"filled":true,"opacity":1,"stroke":"black","strokeWidth":1.5},
 "encoding":{"x":{"field":"col","type":"quantitative","scale":{"domain":[0,1],"range":[294.5,424],"nice":false,"zero":false},"axis":null},
  "y":{"field":"row","type":"quantitative","scale":{"domain":[0,2],"range":[966.5,999],"nice":false,"zero":false},"axis":null},
  "color":{"field":"series","type":"nominal","scale":{"domain":["a_power","b_industry","c_aviation","d_shipping","e_transport","f_residential","g_other"],"range":["#99ccff","#ff0000","#ff00ff","#ff6600","#ffff00","#00ff00","#00ffff"]},"legend":null}}},

{"data":{"name":"frame"},"mark":{"type":"rect","fill":"white","stroke":"black","strokeWidth":2},
 "encoding":{"x":{"field":"x0","type":"quantitative","scale":{"domain":[0,1],"range":[291,532],"nice":false},"axis":null},"x2":{"field":"x1"},
  "y":{"field":"y0","type":"quantitative","scale":{"domain":[0,1],"range":[1137,1009],"nice":false},"axis":{"orient":"right","offset":-302,"labels":false,"ticks":false,"title":"BC [Mt yr⁻¹]","titleX":0,"titleY":1192,"titleAngle":270,"titleAlign":"center","titleBaseline":"middle"}},"y2":{"field":"y1"}}},
{"data":{"name":"p6"},"transform":[{"fold":["b_industry","c_aviation","d_shipping","e_transport","f_residential","g_other"],"as":["series","value"]}],
 "mark":{"type":"bar","stroke":"black","strokeWidth":1.4},
 "encoding":{
  "x":{"field":"year","type":"ordinal","scale":{"range":[291,532],"paddingInner":0.15,"paddingOuter":0.05},"axis":null},
  "y":{"field":"value","type":"quantitative","stack":"zero","scale":{"domain":[0,40],"range":[1137,1009],"nice":false},"axis":{"orient":"left","offset":-291,"values":[0,10,30],"labelExpr":"datum.value==30?'':datum.label","ticks":true,"tickSize":3,"tickColor":"black","labelPadding":4,"title":null}},
  "color":{"field":"series","type":"nominal","scale":{"domain":["a_power","b_industry","c_aviation","d_shipping","e_transport","f_residential","g_other"],"range":["#99ccff","#ff0000","#ff00ff","#ff6600","#ffff00","#00ff00","#00ffff"]},"legend":null},
  "order":{"field":"series","type":"ordinal","sort":"ascending"}}},

{"data":{"name":"frame"},"mark":{"type":"rect","fill":"white","stroke":"black","strokeWidth":2},
 "encoding":{"x":{"field":"x0","type":"quantitative","scale":{"domain":[0,1],"range":[287,527],"nice":false},"axis":null},"x2":{"field":"x1"},
  "y":{"field":"y0","type":"quantitative","scale":{"domain":[0,1],"range":[1267,1144],"nice":false},"axis":{"orient":"right","offset":-330,"labels":false,"ticks":false,"title":"CO [Mt yr⁻¹]","titleX":0,"titleY":1162,"titleAngle":270,"titleAlign":"center","titleBaseline":"middle"}},"y2":{"field":"y1"}}},
{"data":{"name":"p7"},"transform":[{"fold":["b_industry","c_aviation","d_shipping","e_transport","f_residential","g_other"],"as":["series","value"]}],
 "mark":{"type":"bar","stroke":"black","strokeWidth":1.4},
 "encoding":{
  "x":{"field":"year","type":"ordinal","scale":{"range":[287,527],"paddingInner":0.15,"paddingOuter":0.05},"axis":null},
  "y":{"field":"value","type":"quantitative","stack":"zero","scale":{"domain":[0,10],"range":[1267,1144],"nice":false},"axis":{"orient":"left","offset":-287,"values":[0,2,4,6,8,10],"labelPadding":4,"title":null}},
  "color":{"field":"series","type":"nominal","scale":{"domain":["a_power","b_industry","c_aviation","d_shipping","e_transport","f_residential","g_other"],"range":["#99ccff","#ff0000","#ff00ff","#ff6600","#ffff00","#00ff00","#00ffff"]},"legend":null},
  "order":{"field":"series","type":"ordinal","sort":"ascending"}}},

{"data":{"name":"frame"},"mark":{"type":"rect","fill":"white","stroke":"black","strokeWidth":2},
 "encoding":{"x":{"field":"x0","type":"quantitative","scale":{"domain":[0,1],"range":[287,526],"nice":false},"axis":null},"x2":{"field":"x1"},
  "y":{"field":"y0","type":"quantitative","scale":{"domain":[0,1],"range":[1406,1283],"nice":false},"axis":{"orient":"right","offset":-315,"labels":false,"ticks":false,"title":"OC [Mt yr⁻¹]","titleX":0,"titleY":1160,"titleAngle":270,"titleAlign":"center","titleBaseline":"middle"}},"y2":{"field":"y1"}}},
{"data":{"name":"p8"},"transform":[{"fold":["b_industry","c_aviation","d_shipping","e_transport","f_residential","g_other"],"as":["series","value"]}],
 "mark":{"type":"bar","stroke":"black","strokeWidth":1.4},
 "encoding":{
  "x":{"field":"year","type":"ordinal","scale":{"range":[287,526],"paddingInner":0.15,"paddingOuter":0.05},"axis":{"orient":"top","offset":-1283,"title":null,"labelExpr":"datum.value==1980?'19':''","labelPadding":2,"labelAngle":0}},
  "y":{"field":"value","type":"quantitative","stack":"zero","scale":{"domain":[0,55],"range":[1406,1283],"nice":false},"axis":{"orient":"left","offset":-287,"values":[0,10,20,30,40,50],"labelExpr":"datum.value==0?'0':datum.value==10?'10':datum.value==20?'2':''","ticks":true,"tickSize":3,"tickColor":"black","labelPadding":1,"title":null}},
  "color":{"field":"series","type":"nominal","scale":{"domain":["a_power","b_industry","c_aviation","d_shipping","e_transport","f_residential","g_other"],"range":["#99ccff","#ff0000","#ff00ff","#ff6600","#ffff00","#00ff00","#00ffff"]},"legend":null},
  "order":{"field":"series","type":"ordinal","sort":"ascending"}}},

{"data":{"name":"frame"},"mark":{"type":"rect","fill":"white","stroke":"black","strokeWidth":2},
 "encoding":{"x":{"field":"x0","type":"quantitative","scale":{"domain":[0,1],"range":[284,523],"nice":false},"axis":null},"x2":{"field":"x1"},
  "y":{"field":"y0","type":"quantitative","scale":{"domain":[0,1],"range":[1537,1414],"nice":false},"axis":{"orient":"right","offset":-299,"labels":false,"ticks":false,"title":"NOx [Mt yr⁻¹]","titleX":0,"titleY":1152,"titleAngle":270,"titleAlign":"center","titleBaseline":"middle"}},"y2":{"field":"y1"}}},
{"data":{"name":"p9"},"transform":[{"fold":["b_industry","c_aviation","d_shipping","e_transport","f_residential","g_other"],"as":["series","value"]}],
 "mark":{"type":"bar","stroke":"black","strokeWidth":1.4},
 "encoding":{
  "x":{"field":"year","type":"ordinal","scale":{"range":[284,523],"paddingInner":0.15,"paddingOuter":0.05},"axis":null},
  "y":{"field":"value","type":"quantitative","stack":"zero","scale":{"domain":[0,3],"range":[1537,1414],"nice":false},"axis":{"orient":"left","offset":-284,"values":[0,1,2,3],"labelPadding":5,"title":null}},
  "color":{"field":"series","type":"nominal","scale":{"domain":["a_power","b_industry","c_aviation","d_shipping","e_transport","f_residential","g_other"],"range":["#99ccff","#ff0000","#ff00ff","#ff6600","#ffff00","#00ff00","#00ffff"]},"legend":null},
  "order":{"field":"series","type":"ordinal","sort":"ascending"}}},

{"data":{"name":"frame"},"mark":{"type":"rect","fill":"white","stroke":"black","strokeWidth":2},
 "encoding":{"x":{"field":"x0","type":"quantitative","scale":{"domain":[0,1],"range":[277,515],"nice":false},"axis":null},"x2":{"field":"x1"},
  "y":{"field":"y0","type":"quantitative","scale":{"domain":[0,1],"range":[1678,1553],"nice":false},"axis":{"orient":"right","offset":-286,"labels":false,"ticks":false,"title":"SO₂ [Mt yr⁻¹]","titleX":0,"titleY":1152,"titleAngle":270,"titleAlign":"center","titleBaseline":"middle"}},"y2":{"field":"y1"}}},
{"data":{"name":"p10"},"transform":[{"fold":["b_industry","c_aviation","d_shipping","e_transport","f_residential","g_other"],"as":["series","value"]}],
 "mark":{"type":"bar","stroke":"black","strokeWidth":1.4},
 "encoding":{
  "x":{"field":"year","type":"ordinal","scale":{"range":[277,515],"paddingInner":0.15,"paddingOuter":0.05},"axis":{"orient":"top","offset":-1553,"title":null,"labelExpr":"datum.value==1980?'19':''","labelPadding":3,"labelAngle":0}},
  "y":{"field":"value","type":"quantitative","stack":"zero","scale":{"domain":[0,6],"range":[1678,1553],"nice":false},"axis":{"orient":"left","offset":-277,"values":[1,2,3,4,5],"labelExpr":"''","ticks":true,"tickSize":3,"tickColor":"black","title":null}},
  "color":{"field":"series","type":"nominal","scale":{"domain":["a_power","b_industry","c_aviation","d_shipping","e_transport","f_residential","g_other"],"range":["#99ccff","#ff0000","#ff00ff","#ff6600","#ffff00","#00ff00","#00ffff"]},"legend":null},
  "order":{"field":"series","type":"ordinal","sort":"ascending"}}},

{"data":{"name":"frame"},"mark":{"type":"rect","fill":"white","stroke":"black","strokeWidth":3},
 "encoding":{"x":{"field":"x0","type":"quantitative","scale":{"domain":[0,1],"range":[276,498],"nice":false},"axis":null},"x2":{"field":"x1"},
  "y":{"field":"y0","type":"quantitative","scale":{"domain":[0,1],"range":[1721,1679],"nice":false},"axis":{"orient":"right","offset":-287,"labels":false,"ticks":false,"title":"Sectoral fraction for BC","titleX":0,"titleY":1240,"titleAngle":270,"titleAlign":"center","titleBaseline":"middle"}},"y2":{"field":"y1"}}},
{"data":{"name":"legend2"},"mark":{"type":"point","shape":"M-1,-0.391H1V0.391H-1Z","size":529,"filled":true,"opacity":1,"stroke":"black","strokeWidth":1.5},
 "encoding":{"x":{"field":"col","type":"quantitative","scale":{"domain":[0,1],"range":[295.5,408.5],"nice":false,"zero":false},"axis":null},
  "y":{"field":"row","type":"quantitative","scale":{"domain":[0,1],"range":[1690.5,1706.5],"nice":false,"zero":false},"axis":null},
  "color":{"field":"series","type":"nominal","scale":{"domain":["a_power","b_industry","c_aviation","d_shipping","e_transport","f_residential","g_other"],"range":["#99ccff","#ff0000","#ff00ff","#ff6600","#ffff00","#00ff00","#00ffff"]},"legend":null}}}
],
"resolve": {"scale": {"x":"independent","y":"independent"}, "axis": {"x":"independent","y":"independent"}},
"config": {
 "view": {"stroke": null, "fill": null},
 "font": "Liberation Sans",
 "axis": {"labelFont":"Liberation Sans","labelFontSize":7,"labelColor":"#333333","domain":false,"ticks":false,"grid":false,"titleFont":"Liberation Sans","titleFontSize":7,"titleFontWeight":"normal","titleColor":"#333333"}
}
}
